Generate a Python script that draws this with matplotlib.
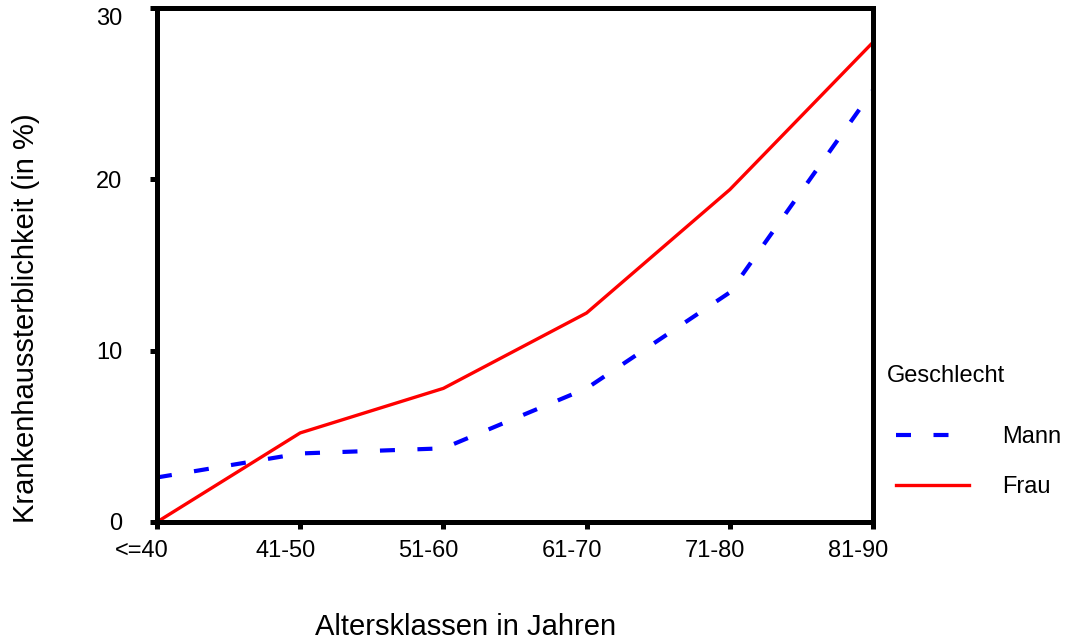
import numpy as np
import matplotlib.pyplot as plt
import matplotlib.transforms as mtransforms

plt.rcParams['font.family'] = ['Liberation Sans', 'DejaVu Sans']

age_classes = ["<=40", "41-50", "51-60", "61-70", "71-80", "81-90"]
mann = [2.6, 4.0, 4.3, 7.8, 13.4, 25.2]
frau = [0.0, 5.2, 7.8, 12.2, 19.4, 28.0]

fig = plt.figure(figsize=(10.7, 6.43), dpi=100)
ax = fig.add_axes([157/1070, 1 - 522/643, (873-157)/1070, (522-8)/643])

x = np.arange(len(age_classes))
ax.plot(x, mann, color="#0000ff", lw=3, dashes=(3.6, 5.4), label="Mann", clip_on=False)
ax.plot(x, frau, color="#ff0000", lw=2.4, label="Frau", clip_on=False)

ax.set_xlim(0, len(age_classes) - 1)
ax.set_ylim(0, 30)
ax.set_xticks(x)
ax.set_xticklabels(age_classes)
ax.set_yticks([0, 10, 20, 30])

for sp in ax.spines.values():
    sp.set_linewidth(3.6)
ax.tick_params(axis="both", direction="out", length=5, width=3.6, labelsize=17)
ax.tick_params(axis="y", pad=20)
ax.tick_params(axis="x", pad=8)

# category labels sit a little left of their ticks in the original
shift = mtransforms.ScaledTranslation(-15/100, 0, fig.dpi_scale_trans)
for lbl in ax.get_xticklabels():
    lbl.set_transform(lbl.get_transform() + shift)
# top y label kept inside the figure
ax.get_yticklabels()[-1].set_va("top")

ax.set_xlabel("Altersklassen in Jahren", fontsize=21)
ax.xaxis.set_label_coords((466 - 157) / 716, -(613 - 522) / 514)
ax.set_ylabel("Krankenhaussterblichkeit (in %)", fontsize=21)
ax.yaxis.set_label_coords((40 - 157) / 716, (522 - 318) / 514)

# legend title placed on its own, entries indented a bit like the original
fig.text(887/1070, 1 - 376/643, "Geschlecht", fontsize=17, va="center", ha="left")
leg = ax.legend(frameon=False, loc="upper left",
                bbox_to_anchor=(896/1070, 1 - 426/643), bbox_transform=fig.transFigure,
                fontsize=17, handlelength=3.1, handletextpad=1.4,
                labelspacing=1.2, borderpad=0, borderaxespad=0)

fig.savefig("out.png", dpi=100)
